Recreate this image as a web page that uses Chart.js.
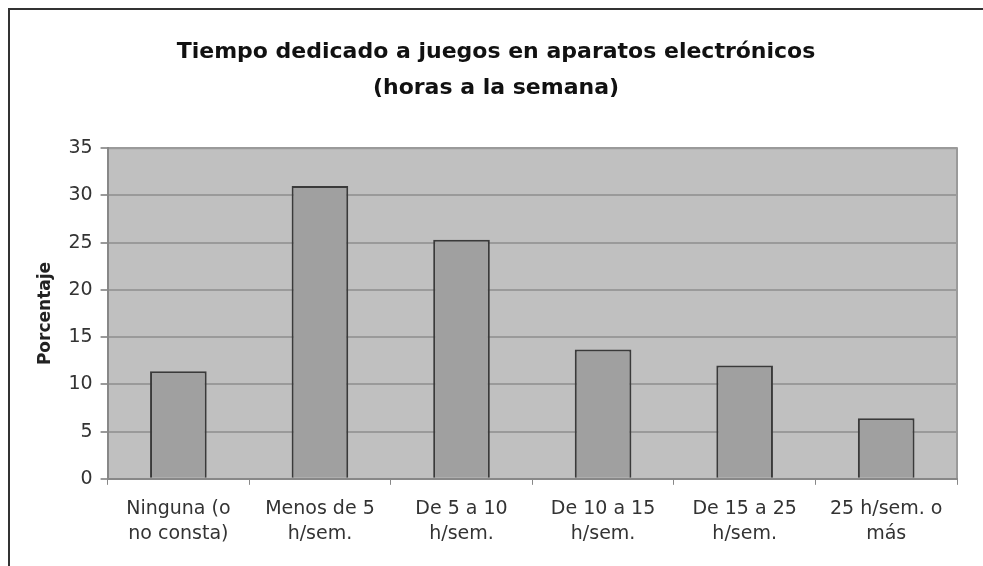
<!DOCTYPE html>
<html>
<head>
<meta charset="utf-8">
<script src="https://cdn.jsdelivr.net/npm/chart.js@4"></script>
<style>
  html, body { margin: 0; padding: 0; background: #fff; }
  #wrap { width: 983px; height: 566px; }
</style>
</head>
<body>
<div id="wrap"><canvas id="juegosChart" width="983" height="566"></canvas></div>
<script>
// Categories (two-line labels) and values
const categories = [
    ['Ninguna (o', 'no consta)'],
    ['Menos de 5', 'h/sem.'],
    ['De 5 a 10', 'h/sem.'],
    ['De 10 a 15', 'h/sem.'],
    ['De 15 a 25', 'h/sem.'],
    ['25 h/sem. o', 'más']
];
const porcentaje = [11.4, 31.0, 25.3, 13.7, 12.0, 6.4];
const yTicks = [0, 5, 10, 15, 20, 25, 30, 35];

const FONT = '"DejaVu Sans", Verdana, sans-serif';

// Grey plot background + outer frame lines
const backdrop = {
    id: 'backdrop',
    beforeDraw(chart) {
        const c = chart.ctx, a = chart.chartArea;
        c.save();
        c.fillStyle = '#c0c0c0';
        c.fillRect(a.left, a.top, a.right - a.left, a.bottom - a.top);
        c.strokeStyle = '#9a9a9a';
        c.lineWidth = 2;
        c.beginPath();
        c.moveTo(a.left, a.top); c.lineTo(a.right, a.top); c.lineTo(a.right, a.bottom);
        c.stroke();
        c.strokeStyle = '#333';
        c.lineWidth = 2;
        c.beginPath();
        c.moveTo(9, 566); c.lineTo(9, 9); c.lineTo(983, 9);
        c.stroke();
        c.restore();
    }
};

const ctx = document.getElementById('juegosChart').getContext('2d');

new Chart(ctx, {
    type: 'bar',
    data: {
        labels: categories,
        datasets: [{
            label: 'Porcentaje',
            data: porcentaje,
            backgroundColor: '#a0a0a0',
            borderColor: '#3a3a3a',
            borderWidth: 2,
            categoryPercentage: 1.0,
            barPercentage: 0.4
        }]
    },
    options: {
        responsive: false,
        animation: false,
        layout: { padding: { left: 35, right: 26, top: 0, bottom: 7 } },
        plugins: {
            legend: { display: false },
            tooltip: { enabled: false },
            title: {
                display: true,
                text: ['Tiempo dedicado a juegos en aparatos electrónicos', '(horas a la semana)'],
                color: '#111',
                font: { family: FONT, size: 22, weight: 'bold', lineHeight: 1.64 },
                padding: { top: 34, bottom: 42 }
            }
        },
        scales: {
            x: {
                grid: { display: true, drawOnChartArea: false, offset: true, tickLength: 6, color: '#888' },
                border: { color: '#888', width: 2 },
                ticks: {
                    color: '#333',
                    maxRotation: 0,
                    padding: 12,
                    font: { family: FONT, size: 19, lineHeight: 1.32 }
                }
            },
            y: {
                min: 0,
                max: 35,
                afterBuildTicks(axis) { axis.ticks = yTicks.map(v => ({ value: v })); },
                grid: { color: '#9a9a9a', lineWidth: 2, tickLength: 7 },
                border: { color: '#888', width: 2 },
                title: {
                    display: true,
                    text: 'Porcentaje',
                    color: '#222',
                    font: { family: FONT, size: 17, weight: 'bold' },
                    padding: { top: 0, bottom: 5 }
                },
                ticks: {
                    color: '#333',
                    padding: 8,
                    font: { family: FONT, size: 19 }
                }
            }
        }
    },
    plugins: [backdrop]
});
</script>
</body>
</html>
